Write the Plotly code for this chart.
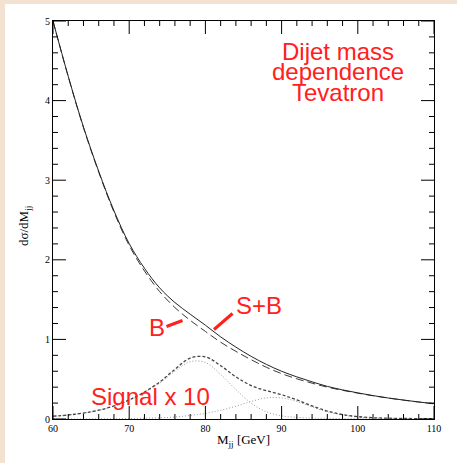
import plotly.graph_objects as go

# Dijet invariant mass grid [GeV]
mjj = [60, 62, 64, 66, 68, 70, 72, 74, 76, 78, 80, 82, 84, 86, 88, 90,
       92, 94, 96, 98, 100, 102, 104, 106, 108, 110]

# QCD background
background = [5.00, 4.30, 3.66, 3.10, 2.60, 2.18, 1.86, 1.60, 1.40, 1.24, 1.10,
              0.965, 0.85, 0.745, 0.65, 0.57, 0.505, 0.45, 0.40, 0.36, 0.325,
              0.292, 0.263, 0.237, 0.213, 0.192]

# signal + background
signal_plus_bg = [5.00, 4.305, 3.668, 3.111, 2.617, 2.204, 1.894, 1.647, 1.463,
                  1.317, 1.178, 1.032, 0.903, 0.787, 0.686, 0.60, 0.529, 0.467,
                  0.41, 0.366, 0.328, 0.294, 0.264, 0.238, 0.214, 0.192]

# total signal, scaled by 10
signal_x10 = [0.035, 0.05, 0.075, 0.11, 0.165, 0.24, 0.34, 0.465, 0.625, 0.765,
              0.78, 0.67, 0.53, 0.42, 0.355, 0.305, 0.24, 0.165, 0.10, 0.055,
              0.03, 0.016, 0.01, 0.007, 0.005, 0.004]

# W peak component (x10)
w_x10 = [0.035, 0.05, 0.075, 0.11, 0.16, 0.235, 0.33, 0.45, 0.60, 0.72, 0.71,
         0.56, 0.37, 0.20, 0.09, 0.04, 0.02, 0.012, 0.008, 0.005, 0.004,
         0.003, 0.003, 0.002, 0.002, 0.002]

# Z peak component (x10)
z_x10 = [0.0, 0.0, 0.0, 0.001, 0.003, 0.005, 0.01, 0.015, 0.025, 0.045, 0.07,
         0.11, 0.16, 0.22, 0.265, 0.265, 0.22, 0.15, 0.09, 0.05, 0.025, 0.012,
         0.006, 0.003, 0.002, 0.001]

# axis ranges and tick spacing
x_range = [60, 110]
y_range = [0, 5]
x_major, x_minor = 10, 2
y_major, y_minor = 1, 0.2

RED = "rgb(255,32,32)"
BEIGE = "#f3e2d2"

# pixel layout of the frame
L, R, T, B = 53, 434, 21, 419
W, H = 457, 463
PW, PH = R - L, B - T
def px_x(p):
    return (p - L) / PW
def px_y(p):
    return (B - p) / PH

fig = go.Figure()

fig.add_trace(go.Scatter(x=mjj, y=w_x10, mode="lines", line_shape="spline",
                         line=dict(color="#9a9a9a", width=1, dash="1px,2px")))
fig.add_trace(go.Scatter(x=mjj, y=z_x10, mode="lines", line_shape="spline",
                         line=dict(color="#9a9a9a", width=1, dash="1px,2px")))
fig.add_trace(go.Scatter(x=mjj, y=signal_x10, mode="lines", line_shape="spline",
                         line=dict(color="#444444", width=1.3, dash="3px,2px")))
fig.add_trace(go.Scatter(x=mjj, y=background, mode="lines", line_shape="spline",
                         line=dict(color="#3a3a3a", width=1, dash="8px,4px")))
fig.add_trace(go.Scatter(x=mjj, y=signal_plus_bg, mode="lines", line_shape="spline",
                         line=dict(color="#222222", width=1)))

# inside tick marks on all four sides, drawn as one segmented line trace
def tick_positions(lo, hi, step):
    n = int(round((hi - lo) / step))
    return [lo + i * step for i in range(n + 1)]

def is_major(v, lo, step):
    k = (v - lo) / step
    return abs(k - round(k)) < 1e-6

x_span = x_range[1] - x_range[0]
y_span = y_range[1] - y_range[0]
tx, ty = [], []
for v in tick_positions(x_range[0], x_range[1], x_minor):
    ln = (13 if is_major(v, x_range[0], x_major) else 5) / PH * y_span
    tx += [v, v, None, v, v, None]
    ty += [y_range[0], y_range[0] + ln, None, y_range[1], y_range[1] - ln, None]
for v in tick_positions(y_range[0], y_range[1], y_minor):
    ln = (13 if is_major(v, y_range[0], y_major) else 5) / PW * x_span
    tx += [x_range[0], x_range[0] + ln, None, x_range[1], x_range[1] - ln, None]
    ty += [v, v, None, v, v, None]
fig.add_trace(go.Scatter(x=tx, y=ty, mode="lines", hoverinfo="skip",
                         line=dict(color="black", width=1), cliponaxis=False))

tickfont = dict(family="Liberation Serif", size=10, color="black")
common = dict(ticks="", showgrid=False, zeroline=False, showline=True,
              linecolor="black", linewidth=1, mirror=True, tickfont=tickfont)
fig.update_xaxes(range=x_range, tickmode="linear", tick0=x_range[0], dtick=x_major,
                 **common)
fig.update_yaxes(range=y_range, tickmode="linear", tick0=y_range[0], dtick=y_major,
                 **common)

# beige frame strips along the left and top edges
fig.add_shape(type="rect", xref="paper", yref="paper", layer="below",
              x0=px_x(-2), x1=px_x(5), y0=px_y(H + 2), y1=px_y(-2),
              fillcolor=BEIGE, line=dict(width=0))
fig.add_shape(type="rect", xref="paper", yref="paper", layer="below",
              x0=px_x(-2), x1=px_x(W + 2), y0=px_y(4), y1=px_y(-2),
              fillcolor=BEIGE, line=dict(width=0))

# arrows pointing at the curves
fig.add_shape(type="line", xref="paper", yref="paper",
              x0=px_x(166.5), y0=px_y(326.5), x1=px_x(182.5), y1=px_y(320.5),
              line=dict(color=RED, width=3))
fig.add_shape(type="line", xref="paper", yref="paper",
              x0=px_x(232.5), y0=px_y(313.5), x1=px_x(214), y1=px_y(329.5),
              line=dict(color=RED, width=3))

redfont = dict(family="Liberation Sans", size=24, color=RED)
labels = [("Dijet mass", 338, 52), ("dependence", 338, 71.5), ("Tevatron", 338, 92),
          ("S+B", 258.5, 305), ("B", 157, 327), ("Signal x 10", 150, 396)]
for text, x, y in labels:
    fig.add_annotation(text=text, xref="paper", yref="paper", x=px_x(x), y=px_y(y),
                       xanchor="center", yanchor="middle", showarrow=False,
                       font=redfont)

fig.add_annotation(text="M<sub>jj</sub> [GeV]", xref="paper", yref="paper",
                   x=0.5, y=px_y(441), xanchor="center", yanchor="middle",
                   showarrow=False,
                   font=dict(family="Liberation Serif", size=13, color="black"))
fig.add_annotation(text="dσ/dM<sub>jj</sub>", xref="paper", yref="paper",
                   x=px_x(25), y=px_y(226), xanchor="center", yanchor="middle",
                   textangle=-90, showarrow=False,
                   font=dict(family="Liberation Serif", size=13, color="black"))

fig.update_layout(template="none", width=W, height=H, showlegend=False,
                  margin=dict(l=L, r=W - R, t=T, b=H - B),
                  paper_bgcolor="white", plot_bgcolor="white")

fig.write_html("out.html")
